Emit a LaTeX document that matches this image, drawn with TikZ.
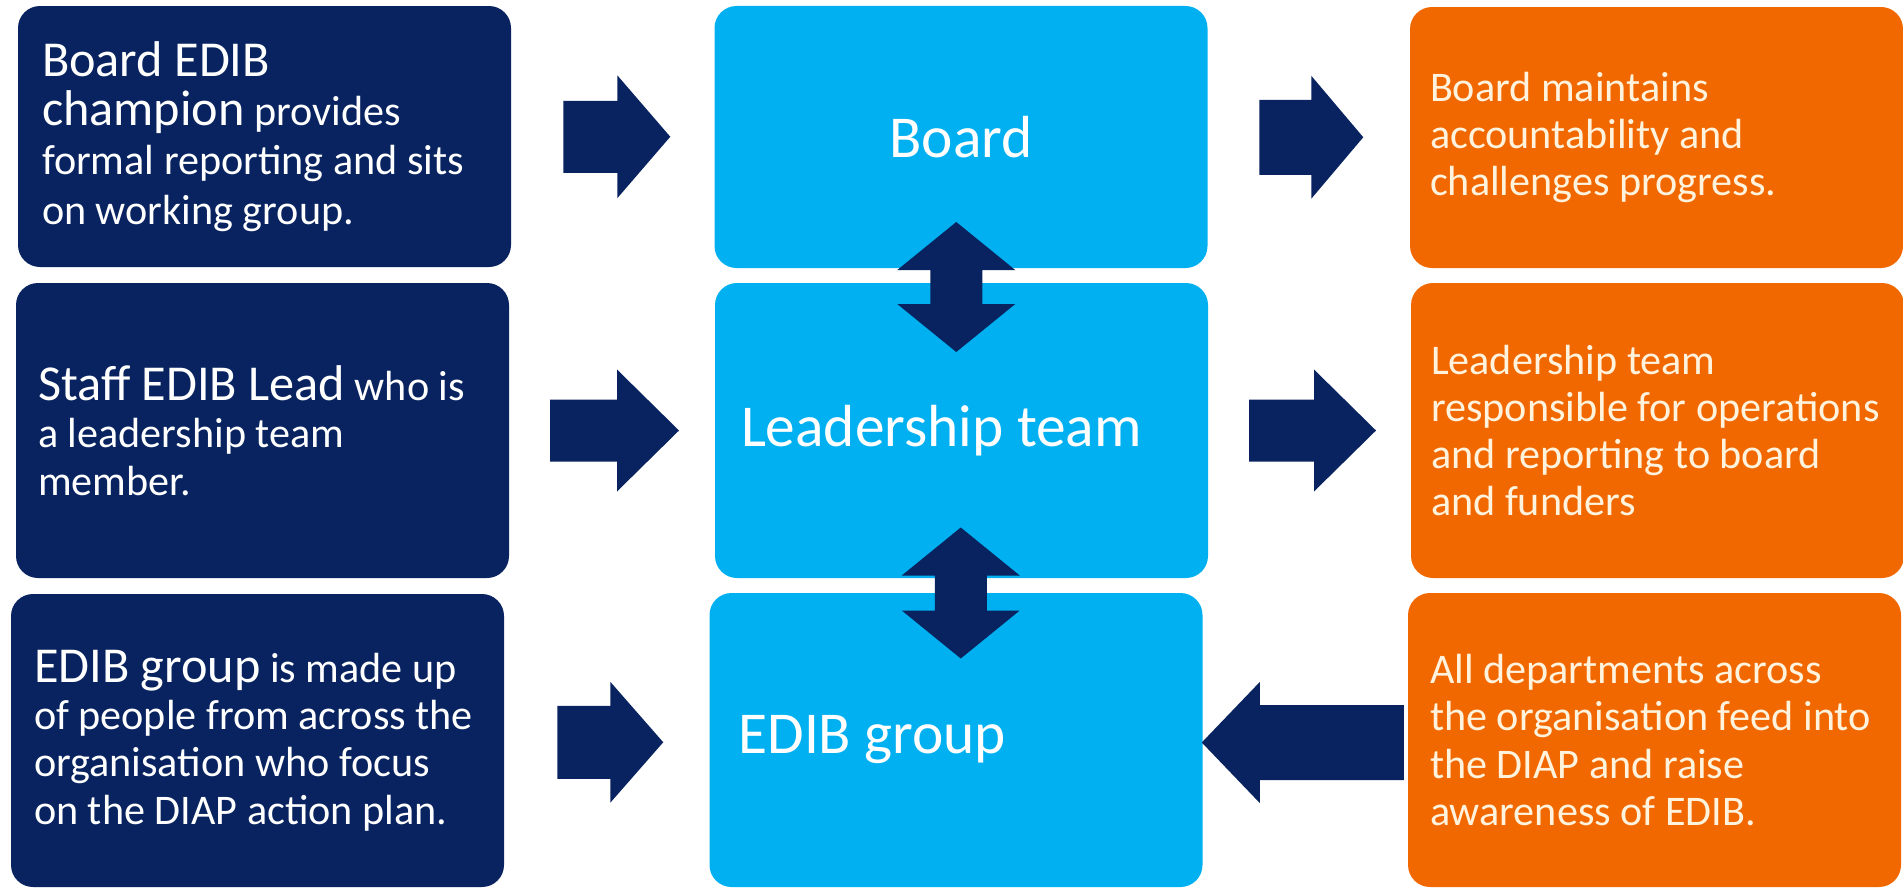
\documentclass[tikz,border=0pt]{standalone}
\usepackage{fontspec}
\setmainfont{Carlito}
\usetikzlibrary{calc}

\definecolor{navy}{RGB}{8,35,95}
\definecolor{skyblue}{RGB}{0,176,240}
\definecolor{burnt}{RGB}{242,104,0}
\definecolor{cream}{RGB}{255,243,222}

% larger lead-in words of the left panels
\newcommand{\bigpart}[1]{{\fontsize{14.3}{13.5}\selectfont #1}}

% block arrow: centre, angle, length, head length, shaft width, head width
\newcommand{\blockarrow}[6]{%
  \fill[arrowfill,shift={(#1)},rotate=#2]
    (-#3/2,-#5/2) -- (#3/2-#4,-#5/2) -- (#3/2-#4,-#6/2) -- (#3/2,0)
    -- (#3/2-#4,#6/2) -- (#3/2-#4,#5/2) -- (-#3/2,#5/2) -- cycle;}

% up-down arrow: centre, length, head length, shaft width, head width
\newcommand{\dblblock}[5]{%
  \fill[arrowfill,shift={(#1)}]
    (0,#2/2) -- (#5/2,#2/2-#3) -- (#4/2,#2/2-#3) -- (#4/2,-#2/2+#3)
    -- (#5/2,-#2/2+#3) -- (0,-#2/2) -- (-#5/2,-#2/2+#3) -- (-#4/2,-#2/2+#3)
    -- (-#4/2,#2/2-#3) -- (-#5/2,#2/2-#3) -- cycle;}

\begin{document}
\begin{tikzpicture}[
  panel/.style={rounded corners=0.22cm, minimum width=4.93cm, inner sep=0pt},
  leftbox/.style={panel, fill=navy},
  midbox/.style={panel, fill=skyblue},
  rightbox/.style={panel, fill=burnt},
  lefttext/.style={anchor=west, align=left, text=white, inner sep=0pt,
    font={\fontsize{12}{13.5}\selectfont}},
  midtext/.style={text=white, inner sep=0pt, font={\fontsize{16.9}{19}\selectfont}},
  righttext/.style={anchor=west, align=left, text=cream, inner sep=0pt,
    font={\fontsize{12}{13.4}\selectfont}},
  arrowfill/.style={fill=navy}
]
\useasboundingbox (0,0) rectangle (19.03,-8.89);

% Panels
\node[leftbox, minimum height=2.61cm] (l1) at (2.645,-1.365) {};
\node[leftbox, minimum height=2.95cm] (l2) at (2.625,-4.305) {};
\node[leftbox, minimum height=2.93cm] (l3) at (2.575,-7.405) {};

\node[midbox, minimum height=2.62cm] (m1) at (9.61,-1.37) {};
\node[midbox, minimum height=2.95cm] (m2) at (9.615,-4.305) {};
\node[midbox, minimum height=2.94cm] (m3) at (9.56,-7.40) {};

\node[rightbox, minimum height=2.61cm] (r1) at (16.565,-1.375) {};
\node[rightbox, minimum height=2.95cm] (r2) at (16.575,-4.305) {};
\node[rightbox, minimum height=2.94cm] (r3) at (16.545,-7.40) {};

% Left texts
\node[lefttext, font={\fontsize{12}{14}\selectfont}] (l1t) at ([xshift=0.24cm]l1.west)
  {\bigpart{Board EDIB}\\\bigpart{champion} provides\\formal reporting and sits\\on working group.};
\node[lefttext] (l2t) at ([xshift=0.22cm]l2.west)
  {\bigpart{Staff EDIB Lead} who is\\a leadership team\\member.};
\node[lefttext] (l3t) at ([xshift=0.23cm]l3.west)
  {\bigpart{EDIB group} is made up\\of people from across the\\organisation who focus\\on the DIAP action plan.};

% Middle texts
\node[midtext] (m1t) at (m1) {Board};
\node[midtext, anchor=west] (m2t) at ([xshift=0.26cm]m2.west) {Leadership team};
\node[midtext, anchor=west] (m3t) at ([xshift=0.29cm]m3.west) {EDIB group};

% Right texts
\node[righttext] (r1t) at ([xshift=0.2cm]r1.west)
  {Board maintains\\accountability and\\challenges progress.};
\node[righttext] (r2t) at ([xshift=0.2cm]r2.west)
  {Leadership team\\responsible for operations\\and reporting to board\\and funders};
\node[righttext] (r3t) at ([xshift=0.22cm]r3.west)
  {All departments across\\the organisation feed into\\the DIAP and raise\\awareness of EDIB.};

% Arrows left -> middle
\blockarrow{$(l1.east)!0.5!(m1.west)+(0.04,0)$}{0}{1.07}{0.53}{0.72}{1.23}
\blockarrow{$(l2.east)!0.5!(m2.west)+(0.025,0)$}{0}{1.29}{0.62}{0.62}{1.22}
\blockarrow{$(l3.east)!0.5!(m3.west)+(0.035,-0.02)$}{0}{1.06}{0.53}{0.73}{1.21}

% Arrows middle -> right, and back from the departments
\blockarrow{$(m1.east)!0.5!(r1.west)+(0.025,0)$}{0}{1.04}{0.52}{0.75}{1.23}
\blockarrow{$(m2.east)!0.5!(r2.west)+(0.03,0)$}{0}{1.27}{0.62}{0.62}{1.22}
\blockarrow{$(m3.east)!0.5!(r3.west)+(-0.025,-0.025)$}{180}{2.02}{0.58}{0.75}{1.21}

% Two-way arrows down the middle
\dblblock{$(m1.south)!0.5!(m2.north)+(-0.05,-0.115)$}{1.30}{0.48}{0.52}{1.18}
\dblblock{$(m2.south)!0.5!(m3.north)+(0.02,-0.075)$}{1.31}{0.48}{0.52}{1.18}

\end{tikzpicture}
\end{document}
